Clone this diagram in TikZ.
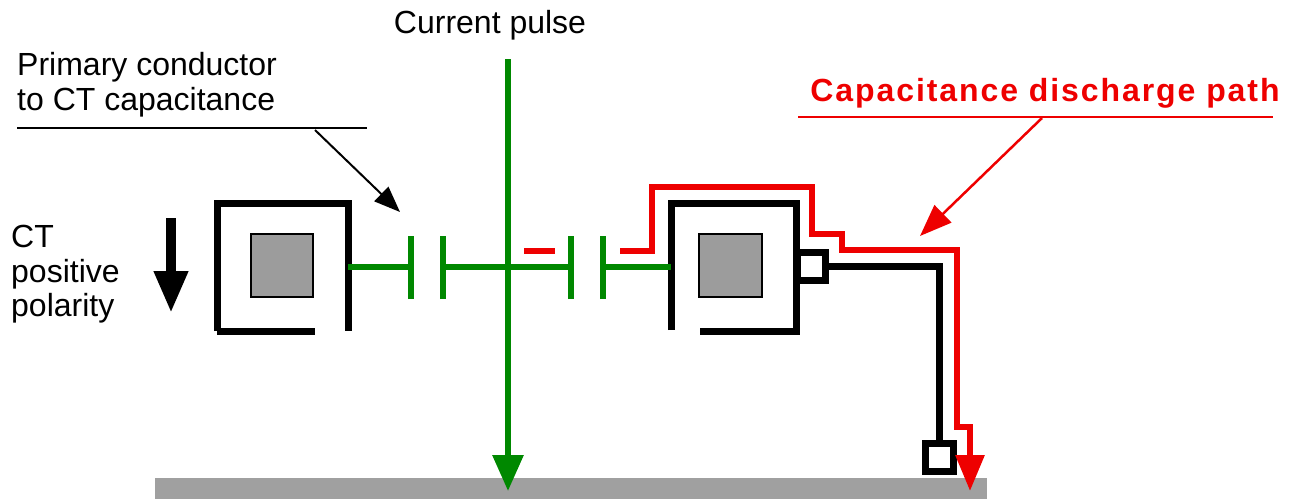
\documentclass[tikz,border=0pt]{standalone}
\usepackage{fontspec}
\setmainfont{Liberation Sans}
\usetikzlibrary{arrows.meta}
\definecolor{gr}{RGB}{0,136,0}
\definecolor{rd}{RGB}{238,0,0}
\definecolor{coregray}{RGB}{156,156,156}
\definecolor{bargray}{RGB}{160,160,160}
\begin{document}
\begin{tikzpicture}[x=1pt,y=-1pt,
  lbl/.style={font=\fontsize{32}{38}\selectfont, inner sep=0pt, anchor=base west},
  ctline/.style={line width=7pt, draw=black},
  core/.style={draw=black, line width=2pt, fill=coregray},
  term/.style={draw=black, line width=7pt, fill=white, minimum size=28pt, inner sep=0pt, rectangle},
  gline/.style={line width=6pt, draw=gr},
  rline/.style={line width=6pt, draw=rd},
  pointer/.style={line width=2pt, -{Triangle[length=26pt,width=20pt]}}]
\useasboundingbox (0,0) rectangle (1300,499);
% ground bar
\fill[bargray] (155,478) rectangle (987,499);
% labels
\node[lbl, anchor=base] (cur) at (490,33) {Current pulse};
\node[lbl] (prim1) at (17,75) {Primary conductor};
\node[lbl] (prim2) at (17,110) {to CT capacitance};
\node[lbl] (ct1) at (11,247) {CT};
\node[lbl] (ct2) at (11,282) {positive};
\node[lbl] (ct3) at (11,316) {polarity};
\node[lbl, anchor=base, font=\fontsize{32}{38}\selectfont\bfseries\addfontfeature{LetterSpace=6}, text=rd] (dis) at (1045,101) {Capacitance discharge path};
% underlines and pointers
\coordinate (u1a) at (17,128); \coordinate (u1b) at (367,128);
\draw[line width=2pt] (u1a) -- (u1b);
\coordinate (p1s) at (315,130); \coordinate (p1e) at (400,212);
\draw[pointer] (p1s) -- (p1e);
\coordinate (u2a) at (798,117); \coordinate (u2b) at (1273,117);
\draw[line width=2.5pt, rd] (u2a) -- (u2b);
\coordinate (p2s) at (1042,118); \coordinate (p2e) at (920,236);
\draw[pointer, rd, line width=2.5pt, -{Triangle[length=32pt,width=24pt]}] (p2s) -- (p2e);
% polarity arrow
\coordinate (pa1) at (171,218); \coordinate (pa2) at (171,313);
\draw[line width=10pt, -{Triangle[length=42pt,width=32pt]}] (pa1) -- (pa2);
% left CT
\draw[ctline] (217,331) -- (217,203) -- (348,203) -- (348,331);
\draw[ctline] (217,331) -- (315,331);
\draw[core] (251,234) rectangle (313,297);
% right CT
\draw[ctline] (671,330) -- (671,203) -- (796,203) -- (796,331) -- (700,331);
\draw[core] (699,234) rectangle (762,297);
% terminals and secondary wire
\node[term] (t1) at (811,266) {};
\node[term] (t2) at (939,457) {};
\draw[ctline] (t1.east) -| (t2.north);
% green primary and capacitances
\coordinate (g0) at (348,267);
\coordinate (c1) at (411,267); \coordinate (c2) at (443,267);
\coordinate (c3) at (571,267); \coordinate (c4) at (603,267);
\coordinate (g5) at (671,267);
\draw[gline] (g0) -- (c1);
\draw[gline] (c2) -- (c3);
\draw[gline] (c4) -- (g5);
\foreach \c in {c1,c2,c3,c4} \draw[gline] ([yshift=-32pt]\c) -- ([yshift=31pt]\c);
\coordinate (gtop) at (508,59); \coordinate (gbot) at (508,491);
\draw[gline, -{Triangle[length=36pt,width=30pt]}] (gtop) -- (gbot);
% red discharge path
\coordinate (r0) at (524,251); \coordinate (r1) at (555,251);
\draw[rline] (r0) -- (r1);
\coordinate (rs) at (620,251); \coordinate (re) at (970,491);
\draw[rline, -{Triangle[length=36pt,width=28pt]}] (rs) -- (652,251) -- (652,187) -- (812,187) -- (812,234) -- (842,234) -- (842,250) -- (957,250) -- (957,427) -- (970,427) -- (re);
\end{tikzpicture}
\end{document}
